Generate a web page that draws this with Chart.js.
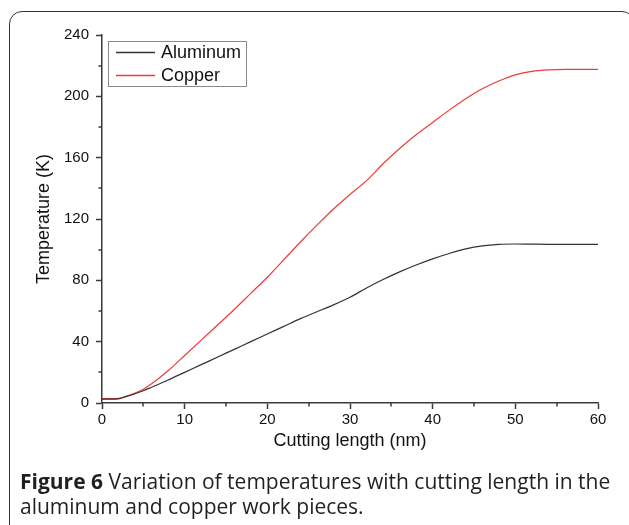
<!DOCTYPE html>
<html>
<head>
<meta charset="utf-8">
<script src="https://cdn.jsdelivr.net/npm/chart.js@4.4.1/dist/chart.umd.min.js"></script>
<style>
  html, body { margin: 0; padding: 0; background: #fff; overflow: hidden; }
  #wrap { position: relative; width: 629px; height: 525px; }
  #frame {
    position: absolute; left: 9px; top: 11px; width: 626px; height: 560px;
    border: 1.5px solid #333; border-radius: 13px; box-sizing: border-box;
  }
  #chart { position: absolute; left: 0; top: 0; }
  #caption {
    position: absolute; left: 20px; top: 469px; width: 605px;
    font-family: "Open Sans", sans-serif; font-size: 21px; line-height: 25px;
    color: #231f20; white-space: nowrap;
  }
  #caption b { font-weight: 700; }
</style>
</head>
<body>
<div id="wrap">
  <canvas id="chart" width="629" height="525"></canvas>
  <div id="frame"></div>
  <div id="caption"><b>Figure 6</b> Variation of temperatures with cutting length in the<br>aluminum and copper work pieces.</div>
</div>
<script>
// cutting length (nm)
var cuttingLength = [0, 1, 2, 3, 4, 5, 6, 8, 10, 12, 14, 16, 18, 20, 22, 24, 26, 28, 30,
                     32, 34, 36, 38, 40, 42, 44, 46, 48, 50, 52, 54, 56, 58, 60];
// temperature (K)
var aluminumTemp = [2.5, 2.5, 2.7, 4.3, 6, 8, 10.3, 15, 20, 25, 30, 35, 40, 45, 50, 55, 59.5, 64, 69,
                    75, 80.5, 85.5, 90, 94, 97.5, 100.5, 102.5, 103.5, 103.7, 103.6, 103.5, 103.5, 103.5, 103.5];
var copperTemp = [2.8, 2.8, 3, 4.5, 6.5, 9, 12.5, 21, 31, 41, 51, 61, 71.5, 82, 93.5, 105, 116, 126.5, 136,
                  145, 156, 166, 175, 183, 191, 198.5, 205, 210, 214, 216.3, 217.3, 217.6, 217.6, 217.6];
var seriesNames = ["Aluminum", "Copper"];
var seriesColors = ["#333333", "#f03a3a"];
var xTicks = [0, 10, 20, 30, 40, 50, 60];
var yTicks = [0, 40, 80, 120, 160, 200, 240];

function toPoints(xs, ys) {
    var pts = [];
    for (var i = 0; i < xs.length; i++) {
        pts.push({x: xs[i], y: ys[i]});
    }
    return pts;
}

var axisColor = "#3a3a3a";
var labelFont = "'Liberation Sans', Arial, sans-serif";

// minor ticks + framed legend, Origin style
var originStyle = {
    id: "originStyle",
    afterDraw: function(chart) {
        var ctx = chart.ctx;
        var xs = chart.scales.x, ys = chart.scales.y;
        var area = chart.chartArea;
        ctx.save();
        ctx.strokeStyle = axisColor;
        ctx.lineWidth = 1.5;
        ctx.beginPath();
        for (var i = 0; i < xTicks.length - 1; i++) {
            var px = Math.round(xs.getPixelForValue((xTicks[i] + xTicks[i + 1]) / 2));
            ctx.moveTo(px, area.bottom);
            ctx.lineTo(px, area.bottom + 3.5);
        }
        for (var j = 0; j < yTicks.length - 1; j++) {
            var py = Math.round(ys.getPixelForValue((yTicks[j] + yTicks[j + 1]) / 2));
            ctx.moveTo(area.left, py);
            ctx.lineTo(area.left - 3.5, py);
        }
        ctx.stroke();

        // legend box
        ctx.strokeStyle = "#8a8a8a";
        ctx.lineWidth = 1;
        ctx.strokeRect(108.5, 41.5, 138, 45);
        ctx.font = "18px " + labelFont;
        ctx.textBaseline = "middle";
        ctx.textAlign = "left";
        for (var k = 0; k < seriesNames.length; k++) {
            var ly = 52.5 + k * 23;
            ctx.beginPath();
            ctx.strokeStyle = seriesColors[k];
            ctx.lineWidth = 1.3;
            ctx.moveTo(116, ly);
            ctx.lineTo(155, ly);
            ctx.stroke();
            ctx.fillStyle = "#111";
            ctx.fillText(seriesNames[k], 161, ly + 1);
        }
        ctx.restore();
    }
};

var ctx = document.getElementById("chart");
var myChart = new Chart(ctx, {
    type: "line",
    data: {
        datasets: [
            {
                label: seriesNames[0],
                data: toPoints(cuttingLength, aluminumTemp),
                borderColor: seriesColors[0],
                borderWidth: 1.2,
                pointRadius: 0,
                cubicInterpolationMode: "monotone"
            },
            {
                label: seriesNames[1],
                data: toPoints(cuttingLength, copperTemp),
                borderColor: seriesColors[1],
                borderWidth: 1.2,
                pointRadius: 0,
                cubicInterpolationMode: "monotone"
            }]
    },
    options: {
        responsive: false,
        animation: false,
        layout: { padding: { left: 0, top: 35, right: 31, bottom: 73 } },
        plugins: { legend: { display: false }, tooltip: { enabled: false } },
        scales: {
            x: {
                type: "linear",
                min: 0, max: 60,
                afterBuildTicks: function(scale) {
                    scale.ticks = xTicks.map(function(v) { return {value: v}; });
                },
                afterFit: function(scale) { scale.height = 49; },
                grid: { drawOnChartArea: false, drawTicks: true, tickLength: 6, tickColor: axisColor, tickWidth: 1.5 },
                border: { display: true, color: axisColor, width: 1.5 },
                ticks: { color: "#111", padding: 2, maxRotation: 0, font: { family: labelFont, size: 15 } },
                title: { display: true, text: "Cutting length (nm)", color: "#111", padding: 0,
                         font: { family: labelFont, size: 18 } }
            },
            y: {
                type: "linear",
                min: 0, max: 240,
                afterBuildTicks: function(scale) {
                    scale.ticks = yTicks.map(function(v) { return {value: v}; });
                },
                afterFit: function(scale) { scale.width = 102; },
                grid: { drawOnChartArea: false, drawTicks: true, tickLength: 6, tickColor: axisColor, tickWidth: 1.5 },
                border: { display: true, color: axisColor, width: 1.5 },
                ticks: { color: "#111", padding: 7, font: { family: labelFont, size: 15 } },
                title: { display: true, text: "Temperature (K)", color: "#111", padding: { top: 33, bottom: 0 },
                         font: { family: labelFont, size: 18 } }
            }
        }
    },
    plugins: [originStyle]
});
</script>
</body>
</html>
